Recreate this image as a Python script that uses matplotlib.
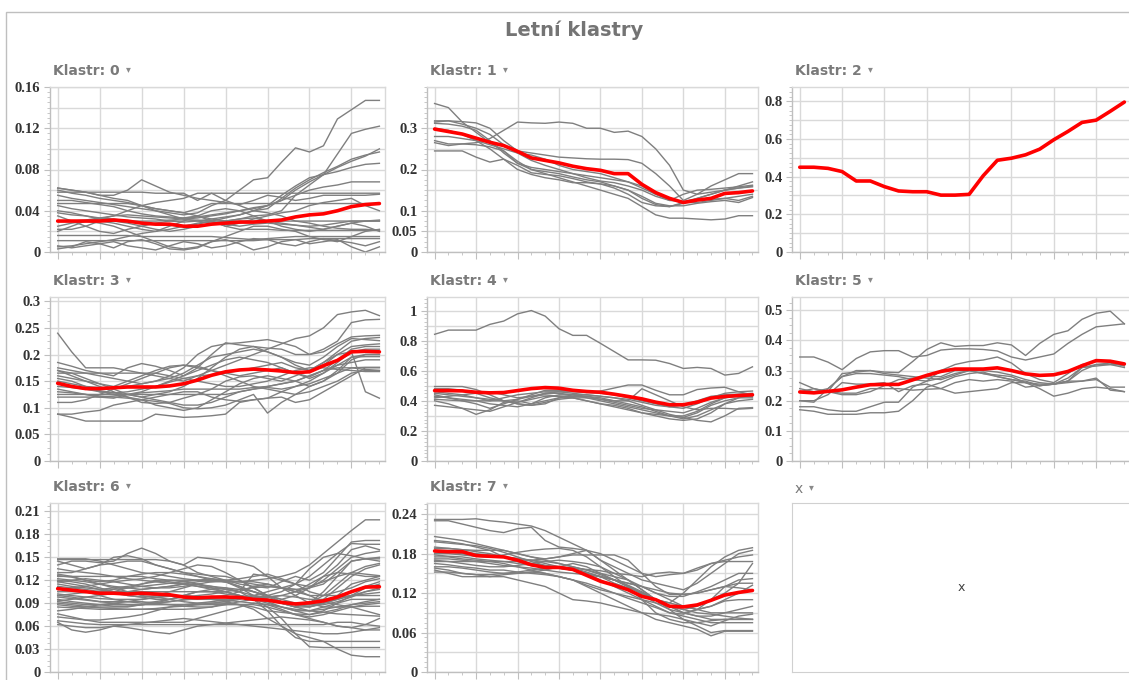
import matplotlib
matplotlib.use("Agg")
import matplotlib.pyplot as plt
from matplotlib.patches import Rectangle
from matplotlib.ticker import MultipleLocator, FixedLocator, FuncFormatter

W, H = 1129, 680

hours = list(range(24))

# --- Klastr 0 ---
k0_mean = [0.030, 0.030, 0.030, 0.030, 0.031, 0.030, 0.028, 0.027, 0.027, 0.025, 0.025, 0.027,
           0.028, 0.029, 0.029, 0.030, 0.031, 0.034, 0.036, 0.037, 0.040, 0.044, 0.046, 0.047]
k0_lines = [
    [0.055, 0.052, 0.050, 0.048, 0.046, 0.044, 0.042, 0.040, 0.038, 0.036, 0.038, 0.045, 0.050, 0.060, 0.070, 0.072, 0.087, 0.101, 0.097, 0.103, 0.129, 0.138, 0.147, 0.147],
    [0.060, 0.057, 0.055, 0.052, 0.050, 0.048, 0.045, 0.042, 0.040, 0.038, 0.035, 0.032, 0.030, 0.032, 0.035, 0.036, 0.040, 0.055, 0.065, 0.075, 0.095, 0.115, 0.119, 0.122],
    [0.045, 0.042, 0.040, 0.038, 0.036, 0.034, 0.033, 0.032, 0.030, 0.029, 0.030, 0.032, 0.034, 0.036, 0.040, 0.045, 0.050, 0.060, 0.068, 0.075, 0.082, 0.088, 0.093, 0.100],
    [0.038, 0.036, 0.035, 0.033, 0.032, 0.030, 0.028, 0.027, 0.026, 0.025, 0.027, 0.030, 0.033, 0.036, 0.040, 0.042, 0.052, 0.062, 0.070, 0.077, 0.083, 0.090, 0.094, 0.097],
    [0.050, 0.050, 0.048, 0.046, 0.044, 0.040, 0.037, 0.035, 0.034, 0.033, 0.034, 0.036, 0.038, 0.040, 0.042, 0.045, 0.055, 0.064, 0.072, 0.075, 0.078, 0.082, 0.085, 0.086],
    [0.030, 0.030, 0.031, 0.033, 0.035, 0.036, 0.035, 0.034, 0.033, 0.032, 0.033, 0.035, 0.037, 0.040, 0.043, 0.045, 0.050, 0.055, 0.060, 0.063, 0.065, 0.068, 0.068, 0.068],
    [0.035, 0.030, 0.025, 0.020, 0.018, 0.022, 0.025, 0.028, 0.030, 0.033, 0.035, 0.030, 0.025, 0.028, 0.032, 0.035, 0.038, 0.040, 0.045, 0.048, 0.050, 0.052, 0.045, 0.040],
    [0.058, 0.058, 0.058, 0.058, 0.058, 0.058, 0.058, 0.057, 0.057, 0.057, 0.050, 0.057, 0.057, 0.057, 0.057, 0.057, 0.057, 0.057, 0.057, 0.057, 0.057, 0.057, 0.057, 0.057],
    [0.062, 0.060, 0.058, 0.055, 0.055, 0.060, 0.070, 0.064, 0.058, 0.055, 0.052, 0.050, 0.048, 0.046, 0.050, 0.055, 0.053, 0.050, 0.052, 0.055, 0.055, 0.055, 0.055, 0.056],
    [0.047, 0.047, 0.047, 0.047, 0.047, 0.047, 0.045, 0.042, 0.040, 0.038, 0.042, 0.047, 0.047, 0.047, 0.047, 0.047, 0.047, 0.047, 0.047, 0.047, 0.047, 0.047, 0.047, 0.047],
    [0.030, 0.030, 0.030, 0.030, 0.030, 0.030, 0.030, 0.030, 0.031, 0.031, 0.031, 0.030, 0.030, 0.030, 0.030, 0.030, 0.030, 0.030, 0.030, 0.030, 0.030, 0.030, 0.030, 0.030],
    [0.022, 0.022, 0.025, 0.030, 0.028, 0.025, 0.022, 0.020, 0.022, 0.025, 0.028, 0.030, 0.025, 0.022, 0.022, 0.022, 0.021, 0.021, 0.021, 0.021, 0.021, 0.021, 0.021, 0.021],
    [0.016, 0.016, 0.016, 0.016, 0.016, 0.016, 0.015, 0.015, 0.015, 0.015, 0.015, 0.015, 0.014, 0.013, 0.012, 0.013, 0.014, 0.015, 0.015, 0.015, 0.015, 0.015, 0.015, 0.015],
    [0.011, 0.011, 0.011, 0.011, 0.011, 0.011, 0.011, 0.011, 0.011, 0.011, 0.011, 0.011, 0.011, 0.011, 0.011, 0.012, 0.012, 0.012, 0.013, 0.013, 0.013, 0.013, 0.013, 0.013],
    [0.003, 0.005, 0.010, 0.008, 0.004, 0.010, 0.012, 0.008, 0.003, 0.002, 0.004, 0.010, 0.012, 0.008, 0.002, 0.005, 0.010, 0.012, 0.008, 0.010, 0.012, 0.005, 0.000, 0.005],
    [0.006, 0.004, 0.006, 0.008, 0.010, 0.006, 0.004, 0.002, 0.006, 0.010, 0.008, 0.004, 0.006, 0.010, 0.013, 0.012, 0.008, 0.006, 0.010, 0.013, 0.011, 0.009, 0.006, 0.010],
    [0.020, 0.025, 0.030, 0.028, 0.025, 0.020, 0.015, 0.010, 0.005, 0.003, 0.005, 0.010, 0.015, 0.020, 0.025, 0.025, 0.022, 0.020, 0.015, 0.012, 0.010, 0.015, 0.020, 0.022],
    [0.062, 0.060, 0.058, 0.055, 0.052, 0.050, 0.045, 0.040, 0.036, 0.032, 0.030, 0.028, 0.027, 0.025, 0.027, 0.028, 0.027, 0.026, 0.025, 0.026, 0.028, 0.030, 0.030, 0.030],
    [0.040, 0.038, 0.035, 0.032, 0.030, 0.028, 0.025, 0.022, 0.020, 0.022, 0.025, 0.028, 0.030, 0.032, 0.033, 0.030, 0.028, 0.026, 0.024, 0.022, 0.025, 0.028, 0.030, 0.031],
    [0.025, 0.028, 0.030, 0.032, 0.035, 0.040, 0.045, 0.048, 0.050, 0.052, 0.057, 0.057, 0.050, 0.045, 0.040, 0.038, 0.035, 0.030, 0.028, 0.025, 0.023, 0.022, 0.022, 0.021],
    [0.005, 0.006, 0.008, 0.010, 0.012, 0.015, 0.018, 0.020, 0.025, 0.030, 0.035, 0.040, 0.042, 0.040, 0.035, 0.030, 0.025, 0.022, 0.020, 0.022, 0.025, 0.028, 0.025, 0.020],
]

# --- Klastr 1 ---
k1_mean = [0.298, 0.292, 0.286, 0.276, 0.266, 0.258, 0.244, 0.228, 0.222, 0.216, 0.208, 0.202,
           0.198, 0.190, 0.190, 0.164, 0.144, 0.130, 0.120, 0.126, 0.130, 0.142, 0.144, 0.148]
k1_lines = [
    [0.360, 0.350, 0.315, 0.290, 0.265, 0.245, 0.215, 0.200, 0.195, 0.190, 0.182, 0.175, 0.170, 0.160, 0.150, 0.130, 0.115, 0.110, 0.118, 0.130, 0.140, 0.150, 0.155, 0.158],
    [0.265, 0.258, 0.262, 0.265, 0.275, 0.295, 0.315, 0.313, 0.312, 0.315, 0.312, 0.300, 0.300, 0.290, 0.293, 0.280, 0.250, 0.210, 0.150, 0.140, 0.145, 0.150, 0.155, 0.160],
    [0.315, 0.318, 0.316, 0.313, 0.300, 0.270, 0.245, 0.240, 0.235, 0.230, 0.228, 0.226, 0.225, 0.225, 0.224, 0.215, 0.190, 0.160, 0.125, 0.140, 0.160, 0.175, 0.190, 0.190],
    [0.312, 0.310, 0.305, 0.295, 0.270, 0.240, 0.215, 0.205, 0.200, 0.195, 0.190, 0.185, 0.180, 0.175, 0.170, 0.160, 0.140, 0.125, 0.122, 0.130, 0.140, 0.150, 0.160, 0.170],
    [0.280, 0.280, 0.275, 0.270, 0.260, 0.250, 0.240, 0.235, 0.225, 0.210, 0.200, 0.195, 0.190, 0.180, 0.170, 0.155, 0.140, 0.130, 0.120, 0.120, 0.125, 0.130, 0.135, 0.140],
    [0.245, 0.245, 0.245, 0.230, 0.218, 0.225, 0.210, 0.192, 0.188, 0.185, 0.178, 0.170, 0.165, 0.160, 0.150, 0.135, 0.118, 0.112, 0.112, 0.118, 0.122, 0.125, 0.120, 0.132],
    [0.270, 0.262, 0.262, 0.260, 0.255, 0.245, 0.220, 0.200, 0.190, 0.180, 0.170, 0.160, 0.150, 0.140, 0.130, 0.110, 0.090, 0.082, 0.082, 0.080, 0.078, 0.080, 0.088, 0.088],
    [0.300, 0.295, 0.285, 0.270, 0.250, 0.225, 0.200, 0.188, 0.180, 0.175, 0.168, 0.168, 0.165, 0.155, 0.140, 0.120, 0.112, 0.110, 0.120, 0.125, 0.128, 0.130, 0.125, 0.135],
    [0.318, 0.318, 0.310, 0.300, 0.285, 0.260, 0.240, 0.222, 0.210, 0.200, 0.190, 0.180, 0.172, 0.168, 0.160, 0.150, 0.135, 0.125, 0.140, 0.150, 0.152, 0.155, 0.158, 0.162],
]

# --- Klastr 2 (single member) ---
k2_mean = [0.450, 0.450, 0.444, 0.427, 0.377, 0.377, 0.347, 0.324, 0.320, 0.320, 0.302, 0.302,
           0.306, 0.405, 0.487, 0.498, 0.516, 0.546, 0.596, 0.640, 0.688, 0.700, 0.747, 0.796]
k2_lines = []

# --- Klastr 3 ---
k3_mean = [0.146, 0.140, 0.136, 0.136, 0.1375, 0.139, 0.139, 0.139, 0.141, 0.145, 0.152, 0.161,
           0.1675, 0.171, 0.1725, 0.171, 0.169, 0.166, 0.1675, 0.179, 0.189, 0.205, 0.206, 0.205]
k3_lines = [
    [0.240, 0.205, 0.175, 0.175, 0.175, 0.170, 0.165, 0.160, 0.155, 0.150, 0.160, 0.170, 0.180, 0.190, 0.200, 0.210, 0.220, 0.230, 0.235, 0.250, 0.275, 0.280, 0.283, 0.273],
    [0.185, 0.178, 0.170, 0.165, 0.160, 0.175, 0.183, 0.178, 0.170, 0.160, 0.175, 0.200, 0.222, 0.218, 0.215, 0.212, 0.210, 0.200, 0.200, 0.210, 0.225, 0.260, 0.265, 0.266],
    [0.175, 0.170, 0.165, 0.160, 0.155, 0.150, 0.145, 0.150, 0.160, 0.175, 0.200, 0.215, 0.220, 0.222, 0.225, 0.228, 0.222, 0.215, 0.200, 0.205, 0.220, 0.233, 0.235, 0.236],
    [0.170, 0.165, 0.155, 0.145, 0.135, 0.125, 0.120, 0.125, 0.130, 0.140, 0.155, 0.175, 0.195, 0.210, 0.215, 0.205, 0.195, 0.185, 0.180, 0.195, 0.215, 0.230, 0.228, 0.226],
    [0.088, 0.088, 0.092, 0.095, 0.105, 0.110, 0.115, 0.120, 0.125, 0.130, 0.130, 0.120, 0.115, 0.112, 0.115, 0.118, 0.130, 0.140, 0.145, 0.155, 0.165, 0.175, 0.172, 0.170],
    [0.088, 0.082, 0.075, 0.075, 0.075, 0.075, 0.075, 0.088, 0.085, 0.082, 0.083, 0.085, 0.088, 0.110, 0.115, 0.118, 0.120, 0.110, 0.115, 0.130, 0.145, 0.160, 0.175, 0.175],
    [0.160, 0.155, 0.150, 0.140, 0.130, 0.120, 0.110, 0.108, 0.110, 0.118, 0.125, 0.135, 0.150, 0.158, 0.160, 0.155, 0.150, 0.160, 0.170, 0.185, 0.200, 0.205, 0.130, 0.118],
    [0.140, 0.138, 0.135, 0.132, 0.128, 0.125, 0.120, 0.115, 0.110, 0.105, 0.105, 0.110, 0.120, 0.130, 0.135, 0.138, 0.135, 0.140, 0.150, 0.165, 0.185, 0.205, 0.210, 0.210],
    [0.130, 0.128, 0.125, 0.122, 0.120, 0.118, 0.115, 0.112, 0.108, 0.100, 0.098, 0.100, 0.105, 0.115, 0.125, 0.090, 0.110, 0.125, 0.140, 0.150, 0.165, 0.190, 0.200, 0.200],
    [0.150, 0.145, 0.140, 0.138, 0.138, 0.140, 0.145, 0.150, 0.155, 0.165, 0.180, 0.195, 0.200, 0.205, 0.210, 0.205, 0.195, 0.180, 0.170, 0.180, 0.200, 0.215, 0.218, 0.220],
    [0.125, 0.125, 0.125, 0.125, 0.125, 0.125, 0.125, 0.125, 0.125, 0.125, 0.125, 0.125, 0.125, 0.130, 0.135, 0.140, 0.145, 0.150, 0.160, 0.170, 0.180, 0.185, 0.190, 0.190],
    [0.120, 0.120, 0.120, 0.120, 0.122, 0.125, 0.128, 0.130, 0.132, 0.135, 0.135, 0.135, 0.135, 0.135, 0.138, 0.140, 0.145, 0.150, 0.160, 0.170, 0.175, 0.175, 0.176, 0.176],
    [0.165, 0.165, 0.165, 0.165, 0.165, 0.165, 0.165, 0.165, 0.160, 0.155, 0.150, 0.145, 0.140, 0.140, 0.145, 0.150, 0.160, 0.170, 0.175, 0.175, 0.172, 0.170, 0.168, 0.168],
    [0.110, 0.110, 0.115, 0.125, 0.135, 0.145, 0.155, 0.165, 0.175, 0.180, 0.178, 0.170, 0.160, 0.150, 0.140, 0.135, 0.130, 0.125, 0.130, 0.140, 0.150, 0.165, 0.170, 0.170],
    [0.135, 0.130, 0.125, 0.120, 0.118, 0.125, 0.130, 0.140, 0.150, 0.160, 0.170, 0.180, 0.190, 0.195, 0.190, 0.185, 0.175, 0.165, 0.158, 0.170, 0.190, 0.210, 0.215, 0.215],
    [0.145, 0.140, 0.135, 0.130, 0.128, 0.130, 0.135, 0.140, 0.148, 0.155, 0.160, 0.162, 0.165, 0.170, 0.175, 0.180, 0.185, 0.175, 0.170, 0.185, 0.205, 0.225, 0.230, 0.232],
    [0.155, 0.150, 0.140, 0.130, 0.125, 0.120, 0.115, 0.105, 0.100, 0.095, 0.100, 0.115, 0.130, 0.145, 0.155, 0.160, 0.155, 0.150, 0.140, 0.150, 0.170, 0.195, 0.200, 0.200],
    [0.170, 0.160, 0.150, 0.145, 0.140, 0.150, 0.160, 0.170, 0.178, 0.180, 0.175, 0.170, 0.165, 0.160, 0.165, 0.170, 0.175, 0.165, 0.155, 0.165, 0.180, 0.195, 0.196, 0.196],
]

# --- Klastr 4 ---
k4_mean = [0.468, 0.468, 0.466, 0.457, 0.453, 0.455, 0.468, 0.481, 0.488, 0.484, 0.470, 0.462,
           0.457, 0.444, 0.429, 0.413, 0.391, 0.374, 0.374, 0.391, 0.418, 0.429, 0.435, 0.440]
k4_lines = [
    [0.842, 0.870, 0.870, 0.870, 0.908, 0.930, 0.978, 1.000, 0.963, 0.879, 0.835, 0.835, 0.782, 0.727, 0.672, 0.672, 0.670, 0.648, 0.615, 0.622, 0.615, 0.571, 0.582, 0.626],
    [0.495, 0.495, 0.495, 0.475, 0.440, 0.400, 0.390, 0.420, 0.450, 0.460, 0.460, 0.455, 0.465, 0.485, 0.505, 0.505, 0.470, 0.440, 0.440, 0.475, 0.485, 0.490, 0.460, 0.440],
    [0.480, 0.480, 0.470, 0.450, 0.420, 0.400, 0.410, 0.440, 0.470, 0.470, 0.465, 0.455, 0.450, 0.440, 0.420, 0.400, 0.380, 0.360, 0.350, 0.380, 0.420, 0.450, 0.460, 0.465],
    [0.440, 0.420, 0.400, 0.380, 0.350, 0.380, 0.410, 0.430, 0.450, 0.450, 0.440, 0.430, 0.420, 0.400, 0.380, 0.360, 0.330, 0.300, 0.290, 0.270, 0.260, 0.300, 0.350, 0.355],
    [0.400, 0.380, 0.350, 0.310, 0.340, 0.390, 0.400, 0.380, 0.400, 0.420, 0.420, 0.400, 0.380, 0.370, 0.350, 0.320, 0.310, 0.300, 0.280, 0.300, 0.340, 0.380, 0.420, 0.440],
    [0.370, 0.360, 0.350, 0.340, 0.330, 0.360, 0.390, 0.410, 0.430, 0.430, 0.420, 0.400, 0.380, 0.360, 0.340, 0.320, 0.300, 0.280, 0.270, 0.280, 0.320, 0.380, 0.400, 0.410],
    [0.450, 0.440, 0.430, 0.420, 0.410, 0.400, 0.380, 0.370, 0.390, 0.410, 0.420, 0.420, 0.410, 0.400, 0.400, 0.480, 0.440, 0.400, 0.360, 0.340, 0.350, 0.350, 0.345, 0.350],
    [0.420, 0.430, 0.440, 0.450, 0.460, 0.440, 0.420, 0.430, 0.440, 0.430, 0.430, 0.430, 0.410, 0.390, 0.370, 0.350, 0.340, 0.330, 0.320, 0.350, 0.390, 0.420, 0.430, 0.430],
    [0.410, 0.405, 0.400, 0.400, 0.400, 0.400, 0.380, 0.370, 0.380, 0.420, 0.440, 0.440, 0.430, 0.420, 0.400, 0.370, 0.340, 0.310, 0.290, 0.320, 0.370, 0.400, 0.420, 0.420],
    [0.460, 0.450, 0.440, 0.420, 0.400, 0.420, 0.440, 0.450, 0.460, 0.460, 0.450, 0.440, 0.430, 0.420, 0.410, 0.390, 0.370, 0.360, 0.370, 0.400, 0.430, 0.440, 0.445, 0.450],
    [0.430, 0.420, 0.410, 0.400, 0.380, 0.370, 0.360, 0.380, 0.420, 0.440, 0.440, 0.420, 0.400, 0.380, 0.360, 0.340, 0.320, 0.300, 0.300, 0.330, 0.380, 0.420, 0.440, 0.445],
]

# --- Klastr 5 ---
k5_mean = [0.229, 0.226, 0.231, 0.236, 0.245, 0.253, 0.254, 0.254, 0.269, 0.284, 0.297, 0.305,
           0.305, 0.305, 0.309, 0.300, 0.289, 0.284, 0.286, 0.297, 0.316, 0.333, 0.331, 0.322]
k5_lines = [
    [0.345, 0.345, 0.328, 0.303, 0.340, 0.362, 0.366, 0.366, 0.345, 0.350, 0.368, 0.372, 0.372, 0.370, 0.365, 0.345, 0.335, 0.345, 0.355, 0.390, 0.420, 0.445, 0.450, 0.455],
    [0.260, 0.240, 0.230, 0.290, 0.295, 0.300, 0.295, 0.293, 0.330, 0.370, 0.392, 0.380, 0.383, 0.383, 0.392, 0.385, 0.350, 0.390, 0.420, 0.432, 0.470, 0.490, 0.497, 0.455],
    [0.200, 0.195, 0.240, 0.280, 0.300, 0.300, 0.290, 0.285, 0.280, 0.275, 0.270, 0.285, 0.300, 0.300, 0.295, 0.285, 0.270, 0.260, 0.255, 0.265, 0.300, 0.320, 0.325, 0.315],
    [0.180, 0.180, 0.170, 0.165, 0.165, 0.180, 0.195, 0.195, 0.245, 0.265, 0.300, 0.320, 0.330, 0.335, 0.345, 0.325, 0.290, 0.270, 0.260, 0.290, 0.320, 0.330, 0.330, 0.320],
    [0.170, 0.165, 0.155, 0.155, 0.155, 0.160, 0.160, 0.165, 0.200, 0.245, 0.260, 0.280, 0.290, 0.295, 0.280, 0.270, 0.260, 0.250, 0.255, 0.265, 0.310, 0.320, 0.320, 0.310],
    [0.230, 0.225, 0.230, 0.225, 0.225, 0.240, 0.240, 0.240, 0.235, 0.238, 0.240, 0.260, 0.270, 0.265, 0.270, 0.265, 0.245, 0.250, 0.255, 0.260, 0.265, 0.270, 0.245, 0.245],
    [0.200, 0.200, 0.220, 0.260, 0.255, 0.255, 0.260, 0.230, 0.250, 0.255, 0.240, 0.225, 0.230, 0.235, 0.240, 0.260, 0.260, 0.240, 0.215, 0.225, 0.240, 0.245, 0.240, 0.230],
    [0.230, 0.240, 0.230, 0.220, 0.220, 0.230, 0.250, 0.270, 0.275, 0.280, 0.280, 0.300, 0.300, 0.290, 0.280, 0.270, 0.265, 0.250, 0.255, 0.265, 0.265, 0.275, 0.235, 0.230],
    [0.240, 0.230, 0.240, 0.280, 0.290, 0.290, 0.285, 0.280, 0.270, 0.265, 0.275, 0.290, 0.300, 0.290, 0.285, 0.280, 0.260, 0.255, 0.255, 0.275, 0.310, 0.315, 0.320, 0.320],
]

# --- Klastr 6 ---
k6_mean = [0.109, 0.107, 0.105, 0.103, 0.103, 0.102, 0.103, 0.102, 0.101, 0.098, 0.097, 0.098,
           0.098, 0.0975, 0.095, 0.094, 0.091, 0.089, 0.0905, 0.093, 0.098, 0.105, 0.111, 0.1115]
k6_lines = [
    [0.148, 0.148, 0.148, 0.145, 0.140, 0.135, 0.130, 0.128, 0.125, 0.122, 0.120, 0.118, 0.118, 0.118, 0.120, 0.122, 0.125, 0.130, 0.140, 0.155, 0.170, 0.185, 0.199, 0.199],
    [0.147, 0.147, 0.147, 0.147, 0.147, 0.147, 0.147, 0.147, 0.145, 0.140, 0.130, 0.125, 0.120, 0.118, 0.115, 0.112, 0.110, 0.115, 0.125, 0.140, 0.155, 0.168, 0.167, 0.167],
    [0.145, 0.140, 0.135, 0.140, 0.150, 0.152, 0.148, 0.140, 0.135, 0.130, 0.128, 0.126, 0.125, 0.120, 0.110, 0.100, 0.095, 0.100, 0.110, 0.125, 0.140, 0.160, 0.165, 0.160],
    [0.140, 0.145, 0.145, 0.143, 0.145, 0.155, 0.162, 0.155, 0.145, 0.140, 0.150, 0.148, 0.145, 0.143, 0.138, 0.125, 0.110, 0.105, 0.110, 0.120, 0.135, 0.150, 0.155, 0.158],
    [0.130, 0.130, 0.135, 0.140, 0.142, 0.145, 0.145, 0.140, 0.135, 0.130, 0.125, 0.122, 0.120, 0.115, 0.112, 0.110, 0.118, 0.125, 0.120, 0.130, 0.150, 0.170, 0.172, 0.172],
    [0.128, 0.125, 0.120, 0.118, 0.120, 0.125, 0.128, 0.130, 0.130, 0.128, 0.125, 0.120, 0.118, 0.110, 0.100, 0.095, 0.090, 0.085, 0.090, 0.105, 0.125, 0.145, 0.148, 0.150],
    [0.125, 0.125, 0.125, 0.125, 0.125, 0.125, 0.125, 0.122, 0.120, 0.120, 0.120, 0.120, 0.118, 0.118, 0.118, 0.115, 0.110, 0.108, 0.110, 0.115, 0.130, 0.145, 0.148, 0.148],
    [0.122, 0.120, 0.118, 0.115, 0.112, 0.110, 0.108, 0.110, 0.112, 0.115, 0.118, 0.120, 0.118, 0.112, 0.105, 0.100, 0.095, 0.090, 0.088, 0.095, 0.110, 0.125, 0.135, 0.140],
    [0.120, 0.118, 0.115, 0.110, 0.105, 0.110, 0.115, 0.120, 0.118, 0.115, 0.112, 0.110, 0.108, 0.105, 0.128, 0.125, 0.120, 0.115, 0.112, 0.118, 0.125, 0.130, 0.128, 0.126],
    [0.118, 0.115, 0.112, 0.108, 0.105, 0.100, 0.098, 0.100, 0.105, 0.110, 0.115, 0.112, 0.108, 0.105, 0.100, 0.098, 0.100, 0.105, 0.115, 0.125, 0.130, 0.128, 0.125, 0.125],
    [0.115, 0.112, 0.110, 0.108, 0.110, 0.112, 0.115, 0.118, 0.120, 0.118, 0.115, 0.110, 0.105, 0.100, 0.095, 0.092, 0.085, 0.080, 0.075, 0.080, 0.090, 0.100, 0.110, 0.115],
    [0.112, 0.110, 0.108, 0.105, 0.103, 0.100, 0.098, 0.095, 0.095, 0.098, 0.100, 0.102, 0.105, 0.108, 0.110, 0.112, 0.110, 0.105, 0.100, 0.100, 0.105, 0.110, 0.118, 0.122],
    [0.110, 0.108, 0.105, 0.100, 0.095, 0.092, 0.090, 0.092, 0.095, 0.100, 0.105, 0.105, 0.102, 0.100, 0.098, 0.095, 0.092, 0.090, 0.088, 0.090, 0.095, 0.100, 0.105, 0.108],
    [0.105, 0.105, 0.105, 0.105, 0.105, 0.105, 0.105, 0.105, 0.105, 0.105, 0.105, 0.105, 0.105, 0.100, 0.095, 0.090, 0.085, 0.080, 0.080, 0.085, 0.090, 0.095, 0.095, 0.095],
    [0.102, 0.100, 0.098, 0.096, 0.095, 0.095, 0.095, 0.097, 0.099, 0.100, 0.098, 0.096, 0.094, 0.092, 0.090, 0.088, 0.085, 0.082, 0.080, 0.082, 0.085, 0.088, 0.090, 0.092],
    [0.100, 0.098, 0.095, 0.092, 0.090, 0.088, 0.088, 0.090, 0.092, 0.095, 0.095, 0.095, 0.095, 0.098, 0.100, 0.095, 0.090, 0.085, 0.085, 0.090, 0.100, 0.115, 0.120, 0.125],
    [0.098, 0.096, 0.094, 0.092, 0.092, 0.092, 0.092, 0.090, 0.088, 0.086, 0.085, 0.085, 0.088, 0.092, 0.095, 0.098, 0.100, 0.098, 0.095, 0.095, 0.098, 0.100, 0.100, 0.100],
    [0.095, 0.092, 0.090, 0.088, 0.086, 0.086, 0.088, 0.090, 0.092, 0.094, 0.096, 0.098, 0.100, 0.105, 0.112, 0.115, 0.110, 0.100, 0.090, 0.085, 0.085, 0.085, 0.088, 0.090],
    [0.092, 0.090, 0.088, 0.088, 0.088, 0.088, 0.088, 0.088, 0.088, 0.088, 0.088, 0.088, 0.088, 0.088, 0.088, 0.085, 0.080, 0.075, 0.072, 0.075, 0.080, 0.085, 0.086, 0.086],
    [0.090, 0.088, 0.086, 0.085, 0.085, 0.085, 0.088, 0.090, 0.095, 0.100, 0.105, 0.108, 0.110, 0.105, 0.095, 0.080, 0.060, 0.045, 0.040, 0.040, 0.040, 0.040, 0.040, 0.040],
    [0.088, 0.086, 0.085, 0.084, 0.083, 0.082, 0.082, 0.083, 0.085, 0.086, 0.088, 0.090, 0.090, 0.088, 0.082, 0.070, 0.060, 0.050, 0.045, 0.040, 0.030, 0.022, 0.020, 0.020],
    [0.085, 0.084, 0.083, 0.082, 0.082, 0.082, 0.082, 0.082, 0.082, 0.082, 0.083, 0.085, 0.090, 0.100, 0.095, 0.085, 0.070, 0.050, 0.033, 0.032, 0.032, 0.032, 0.032, 0.032],
    [0.076, 0.072, 0.068, 0.065, 0.065, 0.065, 0.065, 0.065, 0.065, 0.065, 0.070, 0.075, 0.080, 0.085, 0.090, 0.088, 0.082, 0.075, 0.070, 0.065, 0.060, 0.058, 0.055, 0.055],
    [0.067, 0.065, 0.063, 0.062, 0.062, 0.062, 0.062, 0.062, 0.062, 0.062, 0.062, 0.062, 0.062, 0.062, 0.062, 0.062, 0.062, 0.062, 0.062, 0.062, 0.065, 0.065, 0.062, 0.060],
    [0.065, 0.055, 0.052, 0.055, 0.060, 0.058, 0.055, 0.052, 0.050, 0.055, 0.060, 0.062, 0.064, 0.066, 0.068, 0.070, 0.072, 0.070, 0.068, 0.065, 0.060, 0.058, 0.062, 0.070],
    [0.062, 0.060, 0.058, 0.058, 0.060, 0.062, 0.064, 0.066, 0.068, 0.070, 0.068, 0.066, 0.064, 0.062, 0.060, 0.058, 0.056, 0.054, 0.052, 0.050, 0.050, 0.052, 0.055, 0.058],
    [0.135, 0.132, 0.130, 0.128, 0.125, 0.122, 0.120, 0.118, 0.116, 0.115, 0.114, 0.112, 0.110, 0.108, 0.105, 0.100, 0.105, 0.115, 0.135, 0.150, 0.155, 0.152, 0.148, 0.145],
    [0.108, 0.110, 0.112, 0.115, 0.118, 0.120, 0.122, 0.125, 0.130, 0.135, 0.140, 0.138, 0.130, 0.120, 0.110, 0.100, 0.092, 0.088, 0.085, 0.090, 0.095, 0.100, 0.102, 0.104],
    [0.093, 0.095, 0.098, 0.100, 0.103, 0.105, 0.108, 0.110, 0.112, 0.115, 0.112, 0.108, 0.105, 0.100, 0.095, 0.093, 0.090, 0.088, 0.086, 0.088, 0.092, 0.098, 0.105, 0.110],
    [0.080, 0.082, 0.085, 0.088, 0.090, 0.092, 0.095, 0.098, 0.100, 0.100, 0.098, 0.095, 0.092, 0.088, 0.085, 0.080, 0.078, 0.076, 0.075, 0.078, 0.082, 0.088, 0.092, 0.095],
    [0.118, 0.120, 0.122, 0.120, 0.118, 0.115, 0.112, 0.110, 0.110, 0.112, 0.115, 0.118, 0.120, 0.122, 0.125, 0.128, 0.122, 0.115, 0.105, 0.100, 0.100, 0.105, 0.112, 0.118],
    [0.100, 0.102, 0.104, 0.106, 0.108, 0.110, 0.112, 0.114, 0.116, 0.118, 0.120, 0.122, 0.118, 0.112, 0.105, 0.098, 0.092, 0.088, 0.090, 0.100, 0.115, 0.130, 0.138, 0.142],
    [0.126, 0.124, 0.120, 0.115, 0.110, 0.105, 0.100, 0.098, 0.095, 0.092, 0.090, 0.090, 0.092, 0.095, 0.100, 0.105, 0.110, 0.108, 0.100, 0.092, 0.088, 0.085, 0.080, 0.075],
    [0.072, 0.070, 0.068, 0.068, 0.070, 0.072, 0.075, 0.080, 0.085, 0.088, 0.090, 0.092, 0.094, 0.096, 0.098, 0.095, 0.090, 0.085, 0.080, 0.078, 0.076, 0.075, 0.074, 0.073],
]

# --- Klastr 7 ---
k7_mean = [0.184, 0.183, 0.183, 0.177, 0.176, 0.175, 0.170, 0.163, 0.159, 0.159, 0.156, 0.147,
           0.138, 0.132, 0.125, 0.115, 0.110, 0.100, 0.099, 0.102, 0.109, 0.117, 0.121, 0.124]
k7_lines = [
    [0.232, 0.232, 0.232, 0.233, 0.230, 0.228, 0.225, 0.222, 0.215, 0.205, 0.195, 0.185, 0.170, 0.160, 0.150, 0.140, 0.135, 0.130, 0.125, 0.135, 0.150, 0.165, 0.180, 0.185],
    [0.230, 0.230, 0.225, 0.220, 0.215, 0.212, 0.218, 0.220, 0.200, 0.190, 0.188, 0.185, 0.170, 0.155, 0.140, 0.125, 0.110, 0.105, 0.120, 0.140, 0.160, 0.175, 0.185, 0.189],
    [0.206, 0.203, 0.200, 0.195, 0.190, 0.185, 0.180, 0.175, 0.172, 0.175, 0.180, 0.185, 0.180, 0.170, 0.160, 0.150, 0.145, 0.148, 0.150, 0.155, 0.165, 0.170, 0.175, 0.178],
    [0.200, 0.198, 0.195, 0.190, 0.185, 0.175, 0.168, 0.162, 0.160, 0.158, 0.155, 0.150, 0.140, 0.130, 0.120, 0.110, 0.100, 0.090, 0.088, 0.095, 0.110, 0.130, 0.140, 0.142],
    [0.190, 0.188, 0.186, 0.185, 0.185, 0.185, 0.180, 0.175, 0.170, 0.165, 0.160, 0.155, 0.150, 0.145, 0.140, 0.130, 0.120, 0.110, 0.100, 0.095, 0.100, 0.110, 0.120, 0.132],
    [0.183, 0.182, 0.180, 0.176, 0.175, 0.178, 0.182, 0.185, 0.187, 0.188, 0.185, 0.175, 0.160, 0.145, 0.130, 0.110, 0.090, 0.080, 0.075, 0.075, 0.078, 0.080, 0.080, 0.080],
    [0.178, 0.176, 0.175, 0.172, 0.170, 0.168, 0.165, 0.162, 0.160, 0.158, 0.155, 0.150, 0.145, 0.140, 0.135, 0.130, 0.125, 0.120, 0.118, 0.120, 0.125, 0.130, 0.135, 0.135],
    [0.172, 0.172, 0.170, 0.168, 0.165, 0.162, 0.160, 0.158, 0.155, 0.152, 0.150, 0.148, 0.145, 0.140, 0.130, 0.120, 0.110, 0.100, 0.090, 0.085, 0.085, 0.090, 0.090, 0.090],
    [0.168, 0.168, 0.168, 0.168, 0.168, 0.168, 0.168, 0.170, 0.172, 0.175, 0.178, 0.178, 0.178, 0.178, 0.170, 0.150, 0.130, 0.118, 0.118, 0.120, 0.125, 0.130, 0.128, 0.125],
    [0.160, 0.160, 0.158, 0.155, 0.152, 0.150, 0.150, 0.152, 0.155, 0.160, 0.165, 0.160, 0.150, 0.140, 0.130, 0.120, 0.110, 0.105, 0.100, 0.095, 0.090, 0.090, 0.095, 0.100],
    [0.155, 0.150, 0.145, 0.145, 0.145, 0.148, 0.150, 0.152, 0.150, 0.145, 0.140, 0.135, 0.128, 0.120, 0.112, 0.105, 0.098, 0.090, 0.085, 0.080, 0.075, 0.075, 0.075, 0.075],
    [0.158, 0.155, 0.150, 0.148, 0.145, 0.145, 0.140, 0.135, 0.130, 0.120, 0.110, 0.108, 0.105, 0.100, 0.095, 0.090, 0.088, 0.085, 0.080, 0.070, 0.060, 0.063, 0.063, 0.063],
    [0.165, 0.163, 0.160, 0.158, 0.155, 0.155, 0.152, 0.150, 0.148, 0.145, 0.140, 0.130, 0.120, 0.110, 0.100, 0.090, 0.080, 0.075, 0.070, 0.065, 0.055, 0.062, 0.062, 0.062],
    [0.175, 0.175, 0.172, 0.170, 0.168, 0.165, 0.160, 0.155, 0.150, 0.145, 0.140, 0.132, 0.125, 0.120, 0.115, 0.110, 0.105, 0.100, 0.095, 0.090, 0.088, 0.085, 0.082, 0.080],
    [0.185, 0.185, 0.183, 0.180, 0.178, 0.175, 0.172, 0.170, 0.168, 0.165, 0.160, 0.155, 0.148, 0.140, 0.130, 0.118, 0.105, 0.095, 0.090, 0.095, 0.100, 0.108, 0.110, 0.110],
    [0.188, 0.188, 0.186, 0.183, 0.180, 0.175, 0.170, 0.165, 0.162, 0.158, 0.155, 0.150, 0.145, 0.140, 0.135, 0.130, 0.120, 0.115, 0.115, 0.122, 0.130, 0.140, 0.150, 0.150],
    [0.198, 0.196, 0.194, 0.192, 0.188, 0.182, 0.175, 0.168, 0.162, 0.160, 0.158, 0.156, 0.154, 0.150, 0.148, 0.145, 0.150, 0.152, 0.150, 0.158, 0.165, 0.168, 0.168, 0.168],
    [0.152, 0.152, 0.150, 0.148, 0.148, 0.150, 0.152, 0.155, 0.158, 0.160, 0.158, 0.152, 0.145, 0.135, 0.128, 0.120, 0.110, 0.100, 0.090, 0.085, 0.080, 0.080, 0.080, 0.080],
    [0.170, 0.168, 0.165, 0.162, 0.160, 0.160, 0.162, 0.165, 0.168, 0.170, 0.168, 0.165, 0.160, 0.150, 0.140, 0.125, 0.110, 0.100, 0.095, 0.100, 0.110, 0.120, 0.135, 0.165],
    [0.180, 0.180, 0.178, 0.176, 0.175, 0.175, 0.173, 0.170, 0.165, 0.160, 0.155, 0.150, 0.145, 0.140, 0.132, 0.122, 0.110, 0.095, 0.080, 0.075, 0.070, 0.078, 0.085, 0.088],
]

cluster_names = ["Klastr: 0", "Klastr: 1", "Klastr: 2", "Klastr: 3",
                 "Klastr: 4", "Klastr: 5", "Klastr: 6", "Klastr: 7"]
cluster_means = [k0_mean, k1_mean, k2_mean, k3_mean, k4_mean, k5_mean, k6_mean, k7_mean]
cluster_lines = [k0_lines, k1_lines, k2_lines, k3_lines, k4_lines, k5_lines, k6_lines, k7_lines]

# y axis: top limit, gridline step, labelled values
y_top = [0.16, 0.40, 0.876, 0.308, 1.09, 0.544, 0.221, 0.257]
y_grid = [0.02, 0.05, 0.1, 0.05, 0.1, 0.1, 0.03, 0.03]
y_labels = [
    [0, 0.04, 0.08, 0.12, 0.16],
    [0, 0.05, 0.1, 0.2, 0.3],
    [0, 0.2, 0.4, 0.6, 0.8],
    [0, 0.05, 0.1, 0.15, 0.2, 0.25, 0.3],
    [0, 0.2, 0.4, 0.6, 0.8, 1],
    [0, 0.1, 0.2, 0.3, 0.4, 0.5],
    [0, 0.03, 0.06, 0.09, 0.12, 0.15, 0.18, 0.21],
    [0, 0.06, 0.12, 0.18, 0.24],
]

# panel placement in pixels: (left, right) per column, (top, bottom) per row
col_px = [(50, 385), (427, 758), (792, 1130)]
row_px = [(87, 252), (297, 461), (503, 672)]

GREY = "#7f7f7f"
GRID = "#d9d9d9"
LABEL_GREY = "#7a7a7a"

fig = plt.figure(figsize=(W / 100, H / 100), dpi=100)
fig.patch.set_facecolor("white")

# outer chart frame
fig.patches.append(Rectangle((6 / W, -0.1), 1.2, 1.1 - 12 / H, transform=fig.transFigure,
                             fill=False, edgecolor="#bfbfbf", linewidth=1.0))

fig.text(574 / W, 1 - 30 / H, "Letní klastry", ha="center", va="center",
         fontsize=14, fontweight="bold", color="#747474", family="DejaVu Sans")


def fmt(v, _):
    return "0" if abs(v) < 1e-9 else f"{v:g}"


renderer = fig.canvas.get_renderer()


def panel_label(x_px, y_px, text, bold=True):
    t = fig.text(x_px / W, 1 - y_px / H, text, ha="left", va="center",
                 fontsize=10, fontweight="bold" if bold else "normal",
                 color=LABEL_GREY, family="DejaVu Sans")
    bb = t.get_window_extent(renderer=renderer)
    fig.text((bb.x1 + 6) / W, 1 - (y_px - 2) / H, "▾", ha="left", va="center",
             fontsize=7, color="#8a8a8a", family="DejaVu Sans")


for i in range(9):
    r, c = divmod(i, 3)
    l, rt = col_px[c]
    tp, bt = row_px[r]
    ax = fig.add_axes([l / W, 1 - bt / H, (rt - l) / W, (bt - tp) / H])

    if i == 8:
        for s in ax.spines.values():
            s.set_color("#d0d0d0")
        ax.set_xticks([])
        ax.set_yticks([])
        ax.text(0.5, 0.5, "x", transform=ax.transAxes, ha="center", va="center",
                fontsize=9, color="#404040")
        panel_label(l + 3, tp - 14, "x", bold=False)
        continue

    for line in cluster_lines[i]:
        ax.plot(hours, line, color=GREY, linewidth=1.0, zorder=2)
    ax.plot(hours, cluster_means[i], color="#ff0000", linewidth=2.6, zorder=3,
            solid_capstyle="round")

    ax.set_xlim(-0.55, 23.4)
    ax.set_ylim(0, y_top[i])

    ax.xaxis.set_major_locator(MultipleLocator(3))
    ax.xaxis.set_minor_locator(MultipleLocator(1))
    ax.xaxis.set_major_formatter(FuncFormatter(lambda v, _: ""))
    ax.tick_params(axis="x", which="major", length=5, color="#bfbfbf", direction="out")
    ax.tick_params(axis="x", which="minor", length=2.5, color="#bfbfbf", direction="out")

    # gridlines every y_grid, labels only at the chosen values
    step = y_grid[i]
    n = int(round(y_top[i] / step + 0.49))
    grid_vals = [k * step for k in range(n + 1) if k * step <= y_top[i] + 1e-9]
    for g in grid_vals:
        ax.axhline(g, color=GRID, linewidth=1.0, zorder=1)
    for xv in range(0, 24, 3):
        ax.axvline(xv, color=GRID, linewidth=1.0, zorder=1)

    ax.yaxis.set_major_locator(FixedLocator(y_labels[i]))
    ax.yaxis.set_major_formatter(FuncFormatter(fmt))
    ax.yaxis.set_minor_locator(MultipleLocator(step / 4))
    ax.tick_params(axis="y", which="major", length=4, color="#bfbfbf", pad=3,
                   labelsize=10.5, labelcolor="#333333")
    ax.tick_params(axis="y", which="minor", length=2.5, color="#bfbfbf")
    for lab in ax.get_yticklabels():
        lab.set_fontweight("bold")
        lab.set_family("Liberation Serif")

    for s in ax.spines.values():
        s.set_color("#d9d9d9")
        s.set_linewidth(1.0)
    ax.spines["left"].set_color("#bfbfbf")
    ax.spines["bottom"].set_color("#bfbfbf")

    panel_label(l + 3, tp - 16, cluster_names[i])

fig.savefig("out.png", dpi=100, facecolor="white")
